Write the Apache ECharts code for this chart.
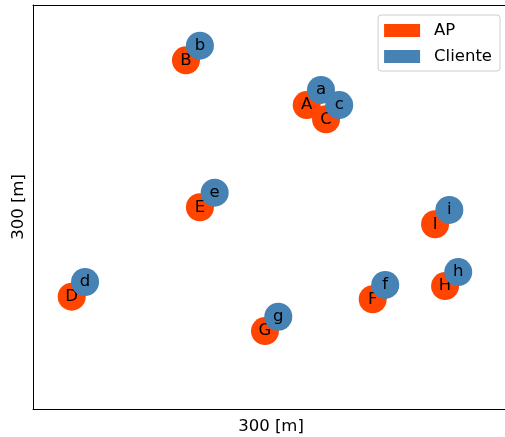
<!DOCTYPE html>
<html>
<head>
<meta charset="utf-8">
<script src="https://cdn.jsdelivr.net/npm/echarts@6/dist/echarts.min.js"></script>
<style>html,body{margin:0;padding:0;background:#fff;overflow:hidden;}#c{width:505px;height:437px;}</style>
</head>
<body>
<div id="c"></div>
<script>
var apNames = ['A','B','C','D','E','F','G','H','I'];
var apX = [172.5, 96.4, 184.7, 24.4, 105.2, 214.1, 146.2, 259.7, 253.4];
var apY = [225.7, 258.9, 215.1, 83.4, 149.8, 81.5, 57.9, 91.3, 137.2];
var clNames = ['a','b','c','d','e','f','g','h','i'];
var clX = [181.5, 105.2, 193.0, 32.8, 114.5, 222.0, 154.6, 268.0, 262.4];
var clY = [236.9, 269.8, 225.7, 94.3, 160.6, 92.1, 68.5, 101.7, 147.8];
var axisName = '300 [m]';

function pts(xs, ys, ns) {
  return xs.map(function (x, i) { return { value: [x, ys[i]], name: ns[i] }; });
}
var font = 'DejaVu Sans';
var chart = echarts.init(document.getElementById('c'), null, { renderer: 'canvas' });
var lbl = { show: true, position: 'inside', color: '#000', fontSize: 16.5, fontFamily: font, formatter: function (p) { return p.name; } };
var line = { show: true, onZero: false, lineStyle: { color: '#000', width: 1 } };
var nameStyle = { fontSize: 16.5, fontFamily: font, color: '#000' };
chart.setOption({
  animation: false,
  grid: { left: 33, top: 5, width: 476, height: 404, outerBoundsMode: 'none', containLabel: false },
  xAxis: [
    { type: 'value', min: 0, max: 300, name: axisName, nameLocation: 'middle', nameGap: 9, nameTextStyle: nameStyle,
      axisLine: line, axisTick: { show: false }, axisLabel: { show: false }, splitLine: { show: false } },
    { type: 'value', position: 'top', min: 0, max: 300,
      axisLine: line, axisTick: { show: false }, axisLabel: { show: false }, splitLine: { show: false } }
  ],
  yAxis: [
    { type: 'value', min: 0, max: 300, name: axisName, nameLocation: 'middle', nameGap: 6, nameTextStyle: nameStyle,
      axisLine: line, axisTick: { show: false }, axisLabel: { show: false }, splitLine: { show: false } },
    { type: 'value', position: 'right', min: 0, max: 300,
      axisLine: line, axisTick: { show: false }, axisLabel: { show: false }, splitLine: { show: false } }
  ],
  legend: {
    right: 5, top: 15, orient: 'vertical', icon: 'rect', itemWidth: 36, itemHeight: 13, itemGap: 9,
    padding: [7, 8, 6, 6], borderColor: '#cccccc', borderWidth: 1, borderRadius: 3, backgroundColor: 'rgba(255,255,255,0.8)',
    textStyle: { fontSize: 16.5, fontFamily: font, color: '#000', padding: [0, 0, 0, 9] },
    data: ['AP', 'Cliente']
  },
  series: [
    { name: 'AP', type: 'scatter', z: 2, symbolSize: 28, itemStyle: { color: '#FF4500', opacity: 1 }, label: lbl, data: pts(apX, apY, apNames) },
    { name: 'Cliente', type: 'scatter', z: 3, symbolSize: 28, itemStyle: { color: '#4682B4', opacity: 1 }, label: lbl, data: pts(clX, clY, clNames) }
  ]
});
</script>
</body>
</html>
